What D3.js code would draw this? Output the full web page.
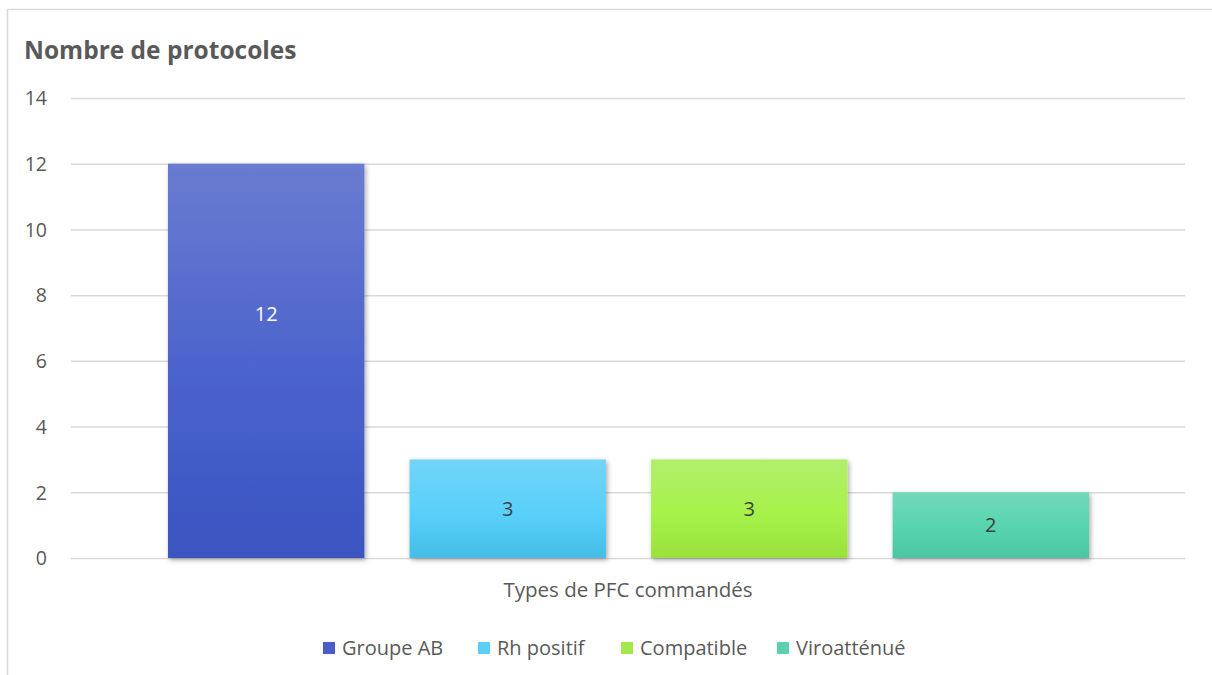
<!DOCTYPE html>
<html>
<head>
<meta charset="utf-8">
<script src="https://cdn.jsdelivr.net/npm/d3@7"></script>
<style>
  html, body { margin: 0; padding: 0; background: #fff; }
  svg { display: block; font-family: "Open Sans", "Noto Sans", sans-serif; }
</style>
</head>
<body>
<svg id="chart" width="1212" height="675"></svg>
<script>
// Chart data
const title = "Nombre de protocoles";
const category = "Types de PFC commandés";
const seriesNames = ["Groupe AB", "Rh positif", "Compatible", "Viroatténué"];
const seriesValues = [12, 3, 3, 2];
const yTicks = [0, 2, 4, 6, 8, 10, 12, 14];
// Gradient stops per series: top, middle, bottom
const seriesGradients = [
  ["#6a7bd0", "#4a62cc", "#3a54c0"],
  ["#72d4f7", "#58d0fa", "#45bde6"],
  ["#b2ee6c", "#a6f24a", "#9ae03c"],
  ["#74d8b8", "#56d4ae", "#4cc6a2"]
];
const legendColors = ["#4a5ec8", "#5ccff8", "#a2ea48", "#5ad0b0"];

const svg = d3.select("#chart");
const W = 1212, H = 675;
const plot = { left: 71, right: 1185, top: 98, bottom: 558 };

// Chart frame
svg.append("rect")
  .attr("x", 7.5).attr("y", 9.5)
  .attr("width", W + 10).attr("height", H + 10)
  .attr("fill", "#fff").attr("stroke", "#d9d9d9").attr("stroke-width", 1.5);

const defs = svg.append("defs");
seriesGradients.forEach((g, i) => {
  const lg = defs.append("linearGradient")
    .attr("id", "grad" + i).attr("x1", 0).attr("y1", 0).attr("x2", 0).attr("y2", 1);
  lg.append("stop").attr("offset", "0%").attr("stop-color", g[0]);
  lg.append("stop").attr("offset", "55%").attr("stop-color", g[1]);
  lg.append("stop").attr("offset", "100%").attr("stop-color", g[2]);
});
const shadow = defs.append("filter").attr("id", "shadow")
  .attr("x", "-10%").attr("y", "-10%").attr("width", "130%").attr("height", "130%");
shadow.append("feDropShadow")
  .attr("dx", 1.5).attr("dy", 2).attr("stdDeviation", 2.5)
  .attr("flood-color", "#000").attr("flood-opacity", 0.35);

// Scales
const y = d3.scaleLinear().domain([0, 14]).range([plot.bottom, plot.top]);
const x0 = d3.scaleBand().domain([category]).range([plot.left, plot.right]).padding(0);
const x1 = d3.scaleBand().domain(seriesNames)
  .range([x0(category) + 97, x0(category) + x0.bandwidth() - 96])
  .paddingInner(0.187).paddingOuter(0);

// Gridlines
svg.append("g")
  .selectAll("line").data(yTicks).join("line")
  .attr("x1", plot.left).attr("x2", plot.right)
  .attr("y1", d => y(d) + 0.5).attr("y2", d => y(d) + 0.5)
  .attr("stroke", "#d9d9d9").attr("stroke-width", 1.5);

// Y axis labels
const yAxis = d3.axisLeft(y).tickValues(yTicks).tickSize(0).tickPadding(0);
const yg = svg.append("g").attr("transform", `translate(47,0)`).call(yAxis);
yg.select(".domain").remove();
yg.selectAll("text")
  .attr("font-size", 19.5).attr("fill", "#595959")
  .attr("font-family", "'Open Sans', sans-serif")
  .attr("dy", "0.35em");

// Bars
svg.append("g").selectAll("rect")
  .data(seriesValues).join("rect")
  .attr("x", (d, i) => x1(seriesNames[i]))
  .attr("y", d => y(d))
  .attr("width", x1.bandwidth())
  .attr("height", d => y(0) - y(d))
  .attr("fill", (d, i) => `url(#grad${i})`)
  .attr("filter", "url(#shadow)");

// Value labels: centered, but no deeper than 150px below the bar top
svg.append("g").selectAll("text")
  .data(seriesValues).join("text")
  .attr("x", (d, i) => x1(seriesNames[i]) + x1.bandwidth() / 2)
  .attr("y", d => y(d) + Math.min((y(0) - y(d)) / 2, 150))
  .attr("dy", "0.35em")
  .attr("text-anchor", "middle")
  .attr("font-size", 20)
  .attr("fill", (d, i) => i === 0 ? "#ffffff" : "#404040")
  .text(d => d);

// Category axis label
svg.append("text")
  .attr("x", x0(category) + x0.bandwidth() / 2)
  .attr("y", 590).attr("dy", "0.35em")
  .attr("text-anchor", "middle")
  .attr("font-size", 20.5).attr("fill", "#595959")
  .text(category);

// Title
svg.append("text")
  .attr("x", 24).attr("y", 59)
  .attr("font-size", 24.5).attr("font-weight", "bold").attr("fill", "#595959")
  .text(title);

// Legend
const legendX = [323, 478, 621, 777];
const lg = svg.append("g");
const items = lg.selectAll("g").data(seriesNames).join("g")
  .attr("transform", (d, i) => `translate(${legendX[i]},648)`);
items.append("rect")
  .attr("x", 0).attr("y", -6).attr("width", 12).attr("height", 12)
  .attr("fill", (d, i) => legendColors[i]);
items.append("text")
  .attr("x", 19).attr("y", 0).attr("dy", "0.35em")
  .attr("font-size", 20).attr("fill", "#595959")
  .text(d => d);
</script>
</body>
</html>
